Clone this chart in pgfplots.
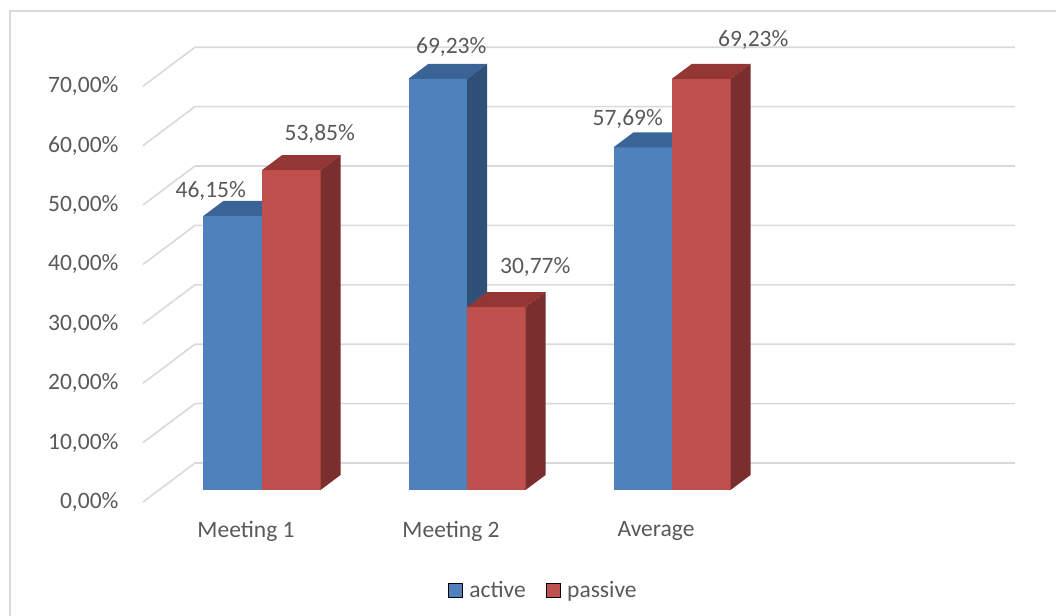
\documentclass[border=0pt]{standalone}
\usepackage{pgfplots}
\pgfplotsset{compat=1.18}
\usepackage{fontspec}
\setmainfont{Carlito}
\definecolor{blueF}{HTML}{4F81BD}
\definecolor{blueT}{HTML}{3B6496}
\definecolor{blueS}{HTML}{2F5079}
\definecolor{redF}{HTML}{C0504D}
\definecolor{redT}{HTML}{943634}
\definecolor{redS}{HTML}{7A2E2D}
\definecolor{gridc}{HTML}{D9D9D9}
\definecolor{txt}{HTML}{595959}
% bar width, depth offsets (axis units)
\def\bw{0.2854}\def\ddx{0.0976}\def\ddy{2.525}
\newcommand\cube[5]{%
 \pgfmathsetmacro\xa{#1}%
 \pgfmathsetmacro\xb{#1+\bw}%
 \pgfmathsetmacro\xc{#1+\bw+\ddx}%
 \pgfmathsetmacro\xd{#1+\ddx}%
 \pgfmathsetmacro\yt{#2}%
 \pgfmathsetmacro\ytt{#2+\ddy}%
 \edef\tmp{%
  \noexpand\addplot[fill=#3,draw=none,forget plot] coordinates {(\xa,0) (\xb,0) (\xb,\yt) (\xa,\yt)} -- cycle;
  \noexpand\addplot[fill=#4,draw=none,forget plot] coordinates {(\xa,\yt) (\xb,\yt) (\xc,\ytt) (\xd,\ytt)} -- cycle;
  \noexpand\addplot[fill=#5,draw=none,forget plot] coordinates {(\xb,0) (\xc,\ddy) (\xc,\ytt) (\xb,\yt)} -- cycle;
 }\tmp}
\newcommand\gline[1]{%
 \pgfmathsetmacro\ga{#1-2.02}%
 \pgfmathsetmacro\gb{#1+4.545}%
 \edef\tmp{%
  \noexpand\addplot[gridc,line width=1.6pt,forget plot] coordinates {(-0.5805,\ga) (-0.327,\gb) (3.673,\gb)};
 }\tmp}
\begin{document}
\begin{tikzpicture}[font=\fontsize{23.5}{28}\selectfont, text=txt]
\useasboundingbox (0,0) rectangle (1056pt,615pt);
\draw[gridc, line width=1.6pt] (10pt,-5pt) -- (10pt,604pt) -- (1060pt,604pt);
\begin{axis}[at={(143pt,113pt)}, anchor=south west, scale only axis,
  x=205pt, y=5.94pt, xmin=-0.5805, xmax=3.673, ymin=-2.02, ymax=74.545,
  axis lines=none, clip=false,
  legend style={at={(0.462,-0.1935)}, anchor=center, legend columns=2, draw=none, fill=none,
    text=txt, font=\fontsize{23.5}{28}\selectfont,
    /tikz/every even column/.append style={column sep=13pt},
    nodes={inner xsep=7pt}},
  legend image code/.code={\fill[#1] (0pt,-7pt) rectangle (14pt,7pt);},
]
\pgfplotsinvokeforeach{0,10,20,30,40,50,60,70}{\gline{#1}}
% Meeting 1
\cube{-0.2854}{46.15}{blueF}{blueT}{blueS}
\cube{0}{53.85}{redF}{redT}{redS}
% Meeting 2
\cube{0.7146}{69.23}{blueF}{blueT}{blueS}
\cube{1}{30.77}{redF}{redT}{redS}
% Average
\cube{1.7146}{57.69}{blueF}{blueT}{blueS}
\cube{2}{69.23}{redF}{redT}{redS}
\addlegendimage{fill=blueF}\addlegendentry{active}
\addlegendimage{fill=redF}\addlegendentry{passive}
% data labels
\node at (axis cs:-0.1427,46.15) [xshift=-22pt,yshift=25pt] {46,15\%};
\node at (axis cs:0.1427,53.85) [xshift=28.5pt,yshift=36pt] {53,85\%};
\node at (axis cs:0.8573,69.23) [xshift=13.5pt,yshift=32pt] {69,23\%};
\node at (axis cs:1.1427,30.77) [xshift=39pt,yshift=40pt] {30,77\%};
\node at (axis cs:1.8573,57.69) [xshift=-15pt,yshift=28pt] {57,69\%};
\node at (axis cs:2.1427,69.23) [xshift=52pt,yshift=39pt] {69,23\%};
% y tick labels (front plane)
\node[anchor=east] at (axis cs:-0.5805,-2.02) [xshift=-21pt] {0,00\%};
\node[anchor=east] at (axis cs:-0.5805,7.98) [xshift=-21pt] {10,00\%};
\node[anchor=east] at (axis cs:-0.5805,17.98) [xshift=-21pt] {20,00\%};
\node[anchor=east] at (axis cs:-0.5805,27.98) [xshift=-21pt] {30,00\%};
\node[anchor=east] at (axis cs:-0.5805,37.98) [xshift=-21pt] {40,00\%};
\node[anchor=east] at (axis cs:-0.5805,47.98) [xshift=-21pt] {50,00\%};
\node[anchor=east] at (axis cs:-0.5805,57.98) [xshift=-21pt] {60,00\%};
\node[anchor=east] at (axis cs:-0.5805,67.98) [xshift=-21pt] {70,00\%};
% category labels
\node at (axis cs:-0.078,-2.02) [yshift=-29pt] {Meeting 1};
\node at (axis cs:0.922,-2.02) [yshift=-29pt] {Meeting 2};
\node at (axis cs:1.922,-2.02) [yshift=-29pt] {Average};
\end{axis}
\end{tikzpicture}
\end{document}
